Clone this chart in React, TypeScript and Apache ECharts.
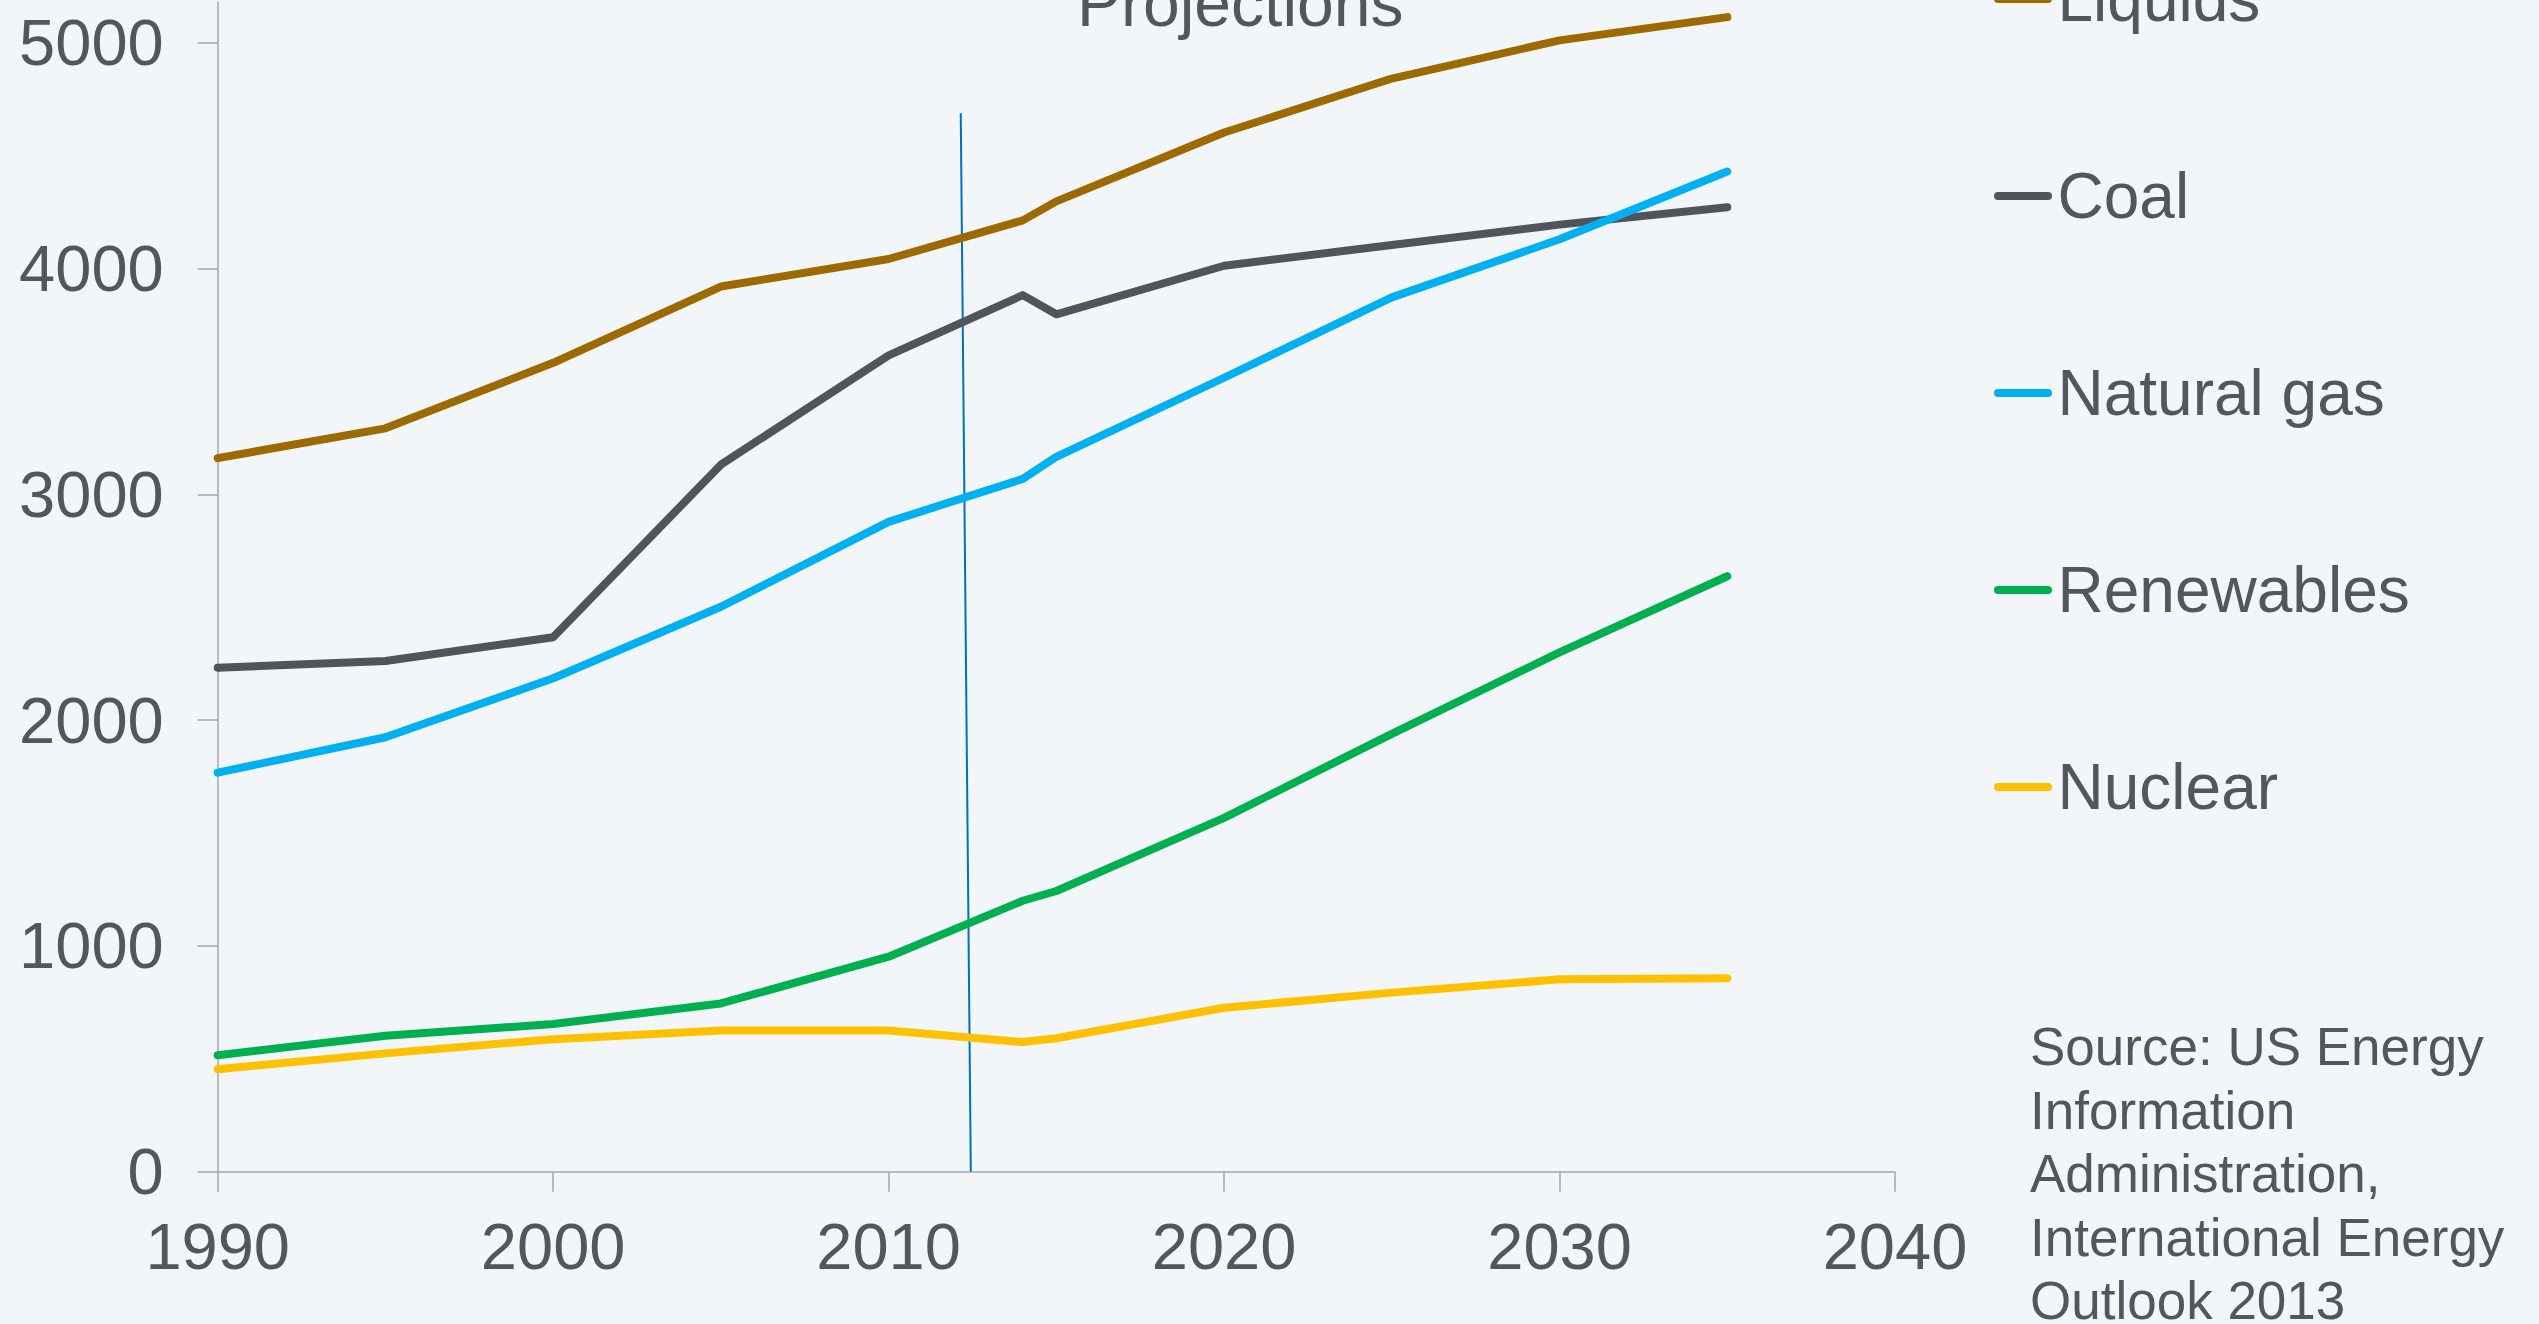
import React, { useEffect, useRef } from "react";
import * as echarts from "echarts";

const years = [1990, 1995, 2000, 2005, 2010, 2014, 2015, 2020, 2025, 2030, 2035];
const liquids = [3160, 3292, 3582, 3920, 4042, 4213, 4297, 4602, 4841, 5010, 5113];
const coal = [2232, 2262, 2367, 3131, 3615, 3882, 3797, 4012, 4104, 4194, 4271];
const naturalGas = [1767, 1924, 2185, 2502, 2878, 3068, 3166, 3516, 3872, 4129, 4429];
const renewables = [516, 602, 654, 745, 952, 1200, 1243, 1567, 1939, 2300, 2637];
const nuclear = [454, 524, 587, 625, 625, 574, 591, 726, 793, 852, 857];

const seriesNames = ["Liquids", "Coal", "Natural gas", "Renewables", "Nuclear"];
const seriesColors = ["#9c6a00", "#50545b", "#00b0f0", "#00b050", "#ffc000"];

const dividerX = [2012.15, 2012.45];
const dividerY = [4687, 0];

const yTicks = [0, 1000, 2000, 3000, 4000, 5000];
const sourceLines = [
  "Source: US Energy",
  "Information",
  "Administration,",
  "International Energy",
  "Outlook 2013",
];

const FONT = '"Liberation Sans", Arial, sans-serif';
const TEXT = "#53565c";
const AXIS = "#a3a6aa";

export default function App() {
  const ref = useRef<HTMLDivElement>(null);
  useEffect(() => {
    if (!ref.current) return;
    const chart = echarts.init(ref.current, undefined, { renderer: "svg" });
    const allValues = [liquids, coal, naturalGas, renewables, nuclear];
    const series: any[] = allValues.map((vals, i) => ({
      name: seriesNames[i],
      type: "line",
      data: years.map((y, j) => [y, vals[j]]),
      symbol: "none",
      color: seriesColors[i],
      lineStyle: { width: 8, color: seriesColors[i], cap: "round", join: "round" },
      z: 3 + i,
    }));
    series.push({
      name: "divider",
      type: "line",
      data: dividerX.map((x, j) => [x, dividerY[j]]),
      symbol: "none",
      lineStyle: { width: 2, color: "#0070c0" },
      z: 2,
    });
    chart.setOption({
      animation: false,
      backgroundColor: "#f2f6f9",
      textStyle: { fontFamily: FONT },
      grid: { left: 217.7, right: 644, top: 2, bottom: 152.3, containLabel: false },
      xAxis: {
        type: "value",
        min: 1990,
        max: 2040,
        interval: 10,
        splitLine: { show: false },
        axisLine: { show: true, lineStyle: { color: AXIS, width: 1.5 } },
        axisTick: { show: true, length: 20, lineStyle: { color: AXIS, width: 1.5 } },
        axisLabel: {
          margin: 42,
          fontSize: 65,
          color: TEXT,
          fontFamily: FONT,
          formatter: (v: number) => String(v),
        },
      },
      yAxis: {
        type: "value",
        min: 0,
        max: 5180,
        interval: 1000,
        splitLine: { show: false },
        axisLine: { show: true, lineStyle: { color: AXIS, width: 1.5 } },
        axisTick: { show: true, length: 20, customValues: yTicks, lineStyle: { color: AXIS, width: 1.5 } },
        axisLabel: {
          margin: 54,
          fontSize: 65,
          color: TEXT,
          fontFamily: FONT,
          customValues: yTicks,
          formatter: (v: number) => String(v),
        },
      },
      legend: {
        orient: "vertical",
        left: 1994,
        top: -33,
        padding: 0,
        data: seriesNames.map((n, i) => ({ name: n, itemStyle: { color: seriesColors[i] } })),
        icon: "path://M4,0 H54 A4,4 0 0 1 54,8 H4 A4,4 0 0 1 4,0 Z",
        itemWidth: 59,
        itemHeight: 8,
        itemGap: 133,
        textStyle: { fontSize: 64, lineHeight: 64, color: TEXT, fontFamily: FONT, padding: [0, 0, 0, 0] },
      },
      graphic: [
        {
          type: "text",
          left: 1077,
          top: -30,
          style: {
            text: "Projections",
            fontSize: 66,
            fontFamily: FONT,
            fill: TEXT,
          },
        },
        {
          type: "text",
          left: 2030,
          top: 1015,
          style: {
            text: sourceLines.join("\n"),
            fontSize: 53,
            lineHeight: 63.5,
            fontFamily: FONT,
            fill: TEXT,
          },
        },
      ],
      series,
    });
    return () => chart.dispose();
  }, []);
  return (
    <div
      ref={ref}
      style={{ position: "fixed", left: 0, top: 0, width: 2539, height: 1324, background: "#f2f6f9" }}
    />
  );
}
